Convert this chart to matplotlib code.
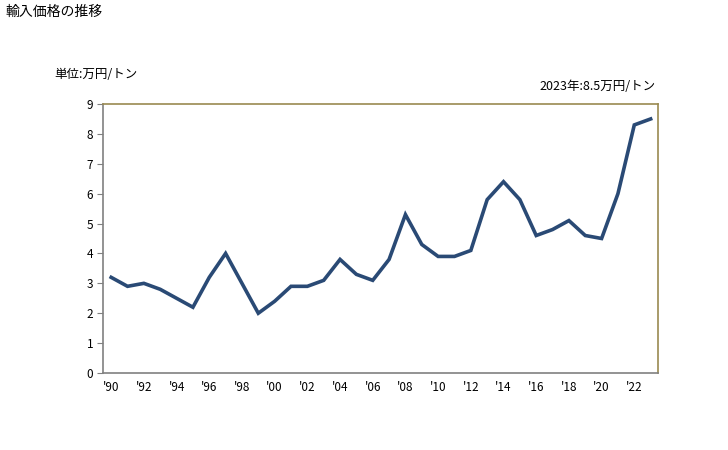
import matplotlib.pyplot as plt

plt.rcParams['font.family'] = ['Noto Sans CJK JP', 'DejaVu Sans']

years = list(range(1990, 2024))
prices = [3.2, 2.9, 3.0, 2.8, 2.5, 2.2, 3.2, 4.0, 3.0, 2.0,
          2.4, 2.9, 2.9, 3.1, 3.8, 3.3, 3.1, 3.8, 5.3, 4.3,
          3.9, 3.9, 4.1, 5.8, 6.4, 5.8, 4.6, 4.8, 5.1, 4.6,
          4.5, 6.0, 8.3, 8.5]
tick_years = list(range(1990, 2024, 2))
tick_labels = ["'%02d" % (y % 100) for y in tick_years]

fig = plt.figure(figsize=(7.28, 4.5), dpi=100)
ax = fig.add_axes([103 / 728, 1 - 373 / 450, 555 / 728, 269 / 450])

ax.plot(years, prices, color='#2a4a75', linewidth=2.6, solid_joinstyle='miter')

ax.set_xlim(1989.5, 2023.45)
ax.set_ylim(0, 9)
ax.set_yticks(range(10))
ax.set_xticks(tick_years)
ax.set_xticklabels(tick_labels)
ax.tick_params(axis='x', length=0, labelsize=8.5, pad=6)
ax.tick_params(axis='y', length=4, color='#808080', labelsize=8.5, pad=3)

ax.spines['left'].set_color('#808080')
ax.spines['bottom'].set_color('#808080')
ax.spines['top'].set_color('#9a8a50')
ax.spines['right'].set_color('#9a8a50')
for s in ax.spines.values():
    s.set_linewidth(1.2)

fig.text(6 / 728, 1 - 12 / 450, '輸入価格の推移', fontsize=10, va='center', ha='left')
fig.text(54 / 728, 1 - 74 / 450, '単位:万円/トン', fontsize=9, va='center', ha='left')
fig.text(656 / 728, 1 - 86 / 450, '2023年:8.5万円/トン', fontsize=9, va='center', ha='right')

fig.savefig('out.png', dpi=100)
